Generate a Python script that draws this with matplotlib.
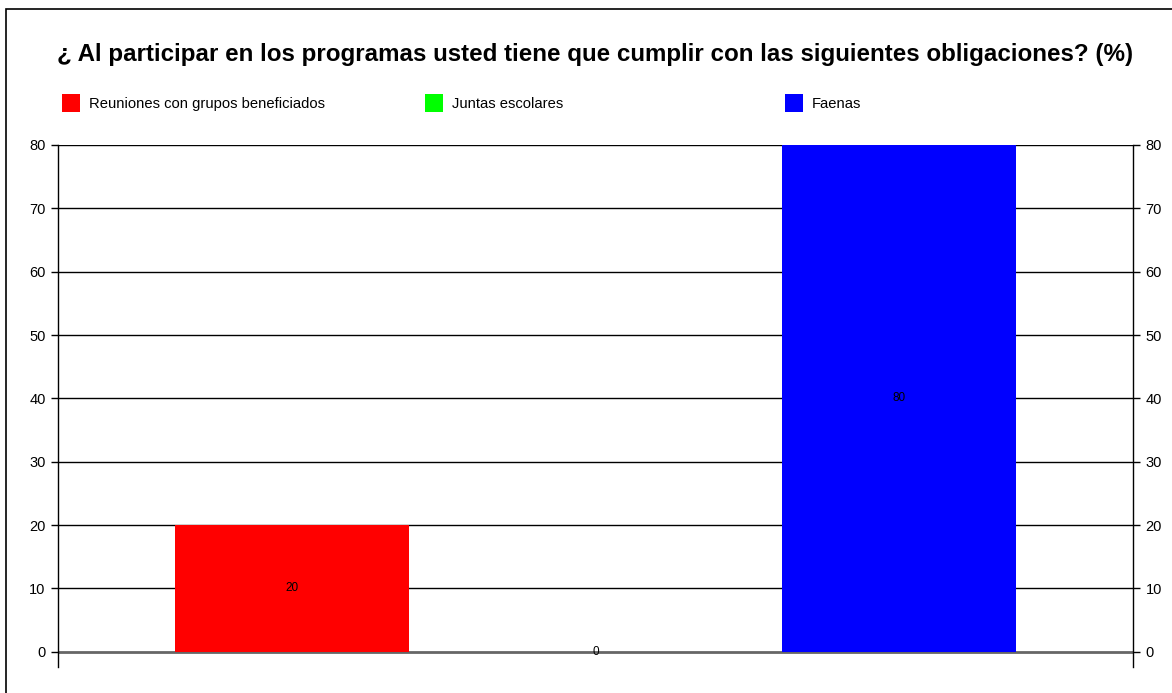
import matplotlib
matplotlib.use('Agg')
import matplotlib.pyplot as plt
from matplotlib.patches import Rectangle
import numpy as np

plt.rcParams['font.family'] = ['Liberation Sans', 'DejaVu Sans']

title = '¿ Al participar en los programas usted tiene que cumplir con las siguientes obligaciones? (%)'
categories = ['Reuniones con grupos beneficiados', 'Juntas escolares', 'Faenas']
values = [20, 0, 80]
colors = ['#ff0000', '#00ff00', '#0000ff']
yticks = [0, 10, 20, 30, 40, 50, 60, 70, 80]

fig = plt.figure(figsize=(11.72, 6.93), dpi=100)
ax = fig.add_axes([58 / 1172, 1 - 667 / 693, 1075 / 1172, 522 / 693])

x = np.arange(len(categories))
bars = ax.bar(x, values, width=0.77, color=colors, zorder=3)
ax.bar_label(bars, labels=[str(v) for v in values], label_type='center', fontsize=8.5, zorder=4)

# grid lines
for t in yticks[1:]:
    ax.axhline(t, color='black', lw=1, zorder=1)
ax.axhline(0, color='#666666', lw=2, zorder=2)

ax.set_xlim(-0.772, 2.772)
ax.set_ylim(-2.4, 80)
ax.set_xticks([])
ax.set_yticks(yticks)
ax.tick_params(axis='y', which='both', left=True, right=True, labelleft=True, labelright=True,
               length=5, width=1, labelsize=10.5, pad=4, colors='black')
for s in ['top', 'bottom']:
    ax.spines[s].set_visible(False)
for s in ['left', 'right']:
    ax.spines[s].set_color('black')
    ax.spines[s].set_linewidth(1)

fig.text(0.508, 1 - 55 / 693, title, ha='center', va='center', fontsize=17.4, fontweight='bold')

# legend row
leg_x = [62, 425, 785]
for lx, name, c in zip(leg_x, categories, colors):
    fig.patches.append(Rectangle((lx / 1172, 1 - 112 / 693), 18 / 1172, 18 / 693,
                                 transform=fig.transFigure, facecolor=c, edgecolor='none'))
    fig.text((lx + 27) / 1172, 1 - 104 / 693, name, ha='left', va='center', fontsize=10.6)

# outer frame
fig.patches.append(Rectangle((6 / 1172, -0.1), 1.2, 1 - 9 / 693 + 0.1, transform=fig.transFigure,
                             facecolor='none', edgecolor='black', lw=1.2, zorder=0))

fig.savefig('out.png', dpi=100)
